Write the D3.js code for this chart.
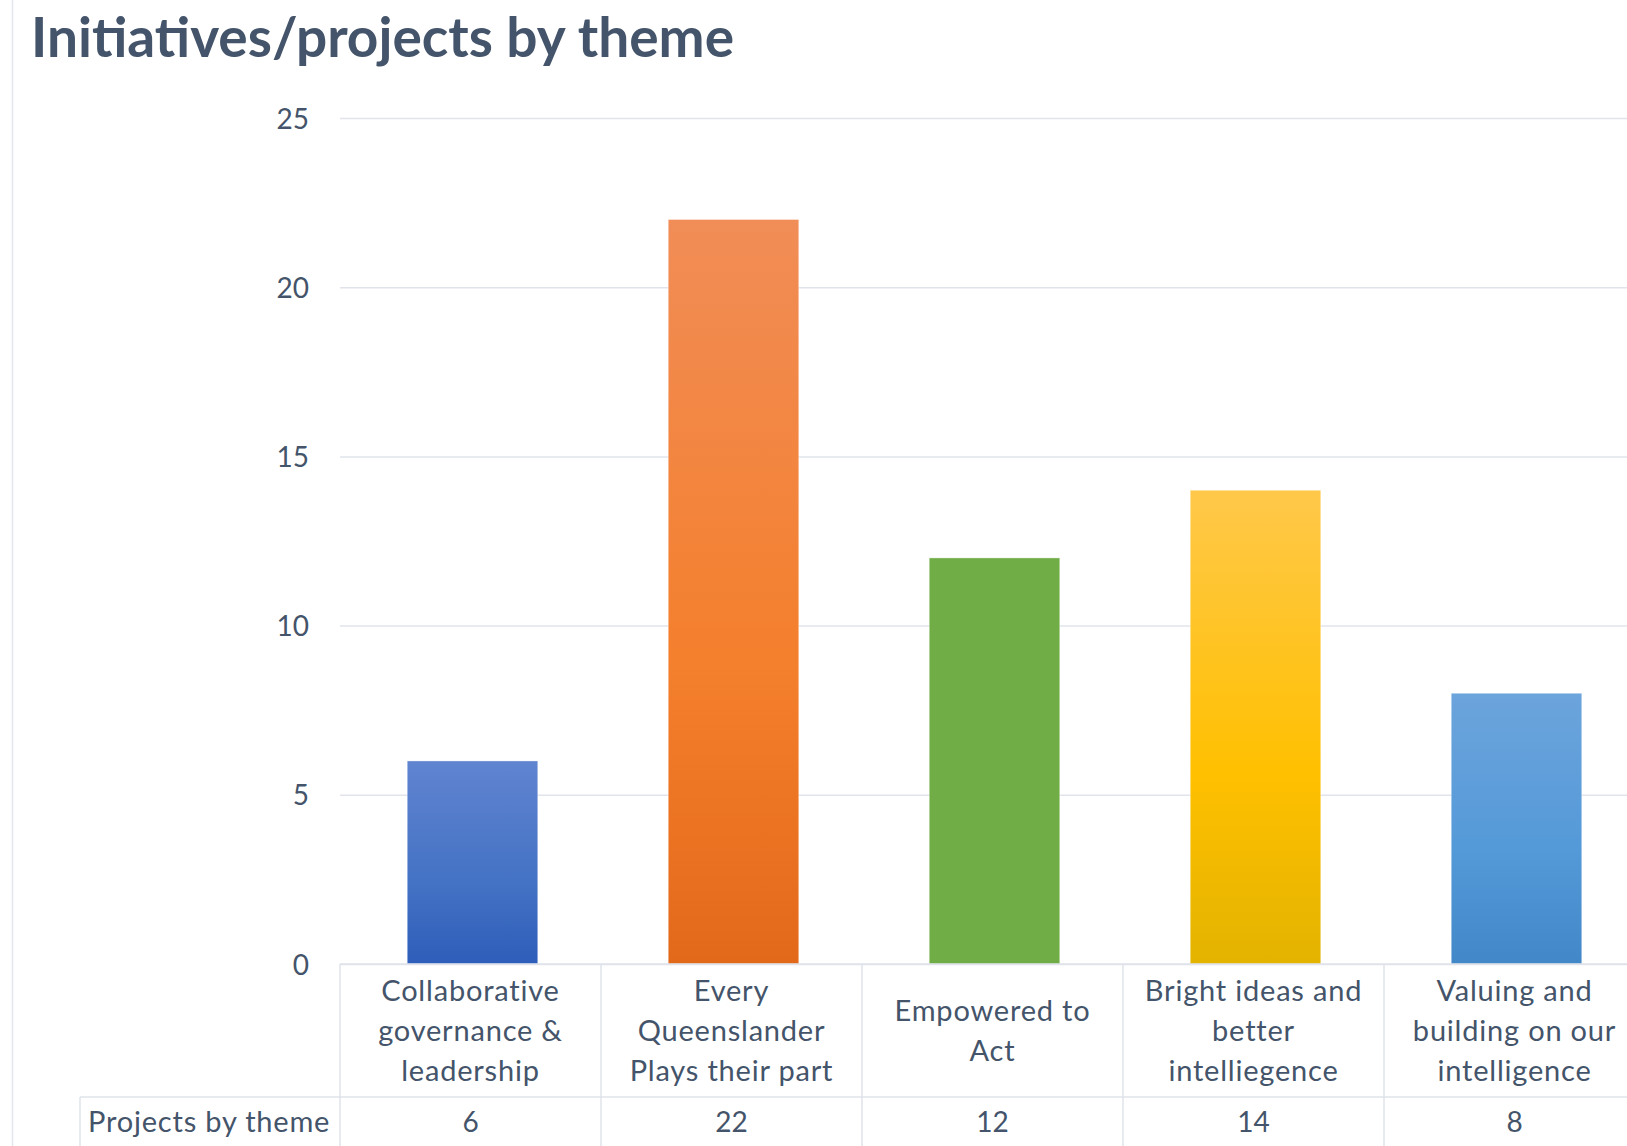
<!DOCTYPE html>
<html>
<head>
<meta charset="utf-8">
<script src="https://cdn.jsdelivr.net/npm/d3@7"></script>
<style>
  body { margin: 0; background: #fff; }
  text { font-family: Lato, "Open Sans", sans-serif; fill: #44546a; }
  .tbl { letter-spacing: 0.8px; }
</style>
</head>
<body>
<script>
var width = 1627;
var height = 1146;

// data
var categories = ["Collaborative governance & leadership", "Every Queenslander Plays their part", "Empowered to Act", "Bright ideas and better intelligence", "Valuing and building on our intelligence"];
var labelLines = [
    ["Collaborative", "governance &", "leadership"],
    ["Every", "Queenslander", "Plays their part"],
    ["Empowered to", "Act"],
    ["Bright ideas and", "better", "intelliegence"],
    ["Valuing and", "building on our", "intelligence"]
];
var projects = [6, 22, 12, 14, 8];
var yTicks = [0, 5, 10, 15, 20, 25];
var seriesName = "Projects by theme";
// top / middle / bottom of each bar's gradient
var barColors = [
    ["#6084d0", "#4472c4", "#2e5dba"],
    ["#f18d57", "#f47f2c", "#e3691a"],
    ["#70ad47", "#70ad47", "#70ad47"],
    ["#ffc84a", "#ffc000", "#e3b300"],
    ["#6ca4dc", "#5399d8", "#4287c7"]
];

var svg = d3.select("body").append("svg")
    .attr("width", width)
    .attr("height", height);

// 왼쪽 테두리
svg.append("line")
    .attr("x1", 12.5).attr("x2", 12.5)
    .attr("y1", 0).attr("y2", height)
    .attr("stroke", "#e3e6ec").attr("stroke-width", 1.5);

svg.append("text")
    .attr("x", 31).attr("y", 57)
    .attr("font-size", 55)
    .attr("font-weight", "bold")
    .text("Initiatives/projects by theme");

var plotLeft = 340, plotRight = 1645, plotTop = 118, plotBottom = 964;
var row1 = 1097;

var cell = d3.scaleBand().domain(categories).range([plotLeft, plotRight]);
var x = d3.scaleBand().domain(categories).range([plotLeft + 2, plotRight + 2])
    .paddingInner(0.5).paddingOuter(0.25);
var y = d3.scaleLinear().domain([0, 25]).range([plotBottom, plotTop]);

// gridlines
var grid = svg.append("g")
    .attr("transform", "translate(" + plotLeft + ",0)")
    .call(d3.axisLeft(y).tickValues(yTicks).tickSize(-(width - plotLeft)).tickFormat(""));
grid.select(".domain").remove();
grid.selectAll(".tick line").attr("stroke", "#e1e4eb").attr("stroke-width", 1.5);

// y tick labels
var yAxisG = svg.append("g")
    .attr("transform", "translate(309,0)")
    .call(d3.axisLeft(y).tickValues(yTicks).tickSize(0).tickPadding(0));
yAxisG.select(".domain").remove();
yAxisG.selectAll("text")
    .attr("font-size", 28)
    .attr("font-family", "Lato, sans-serif")
    .attr("fill", "#44546a")
    .attr("dy", "0.36em");

// gradients
var defs = svg.append("defs");
barColors.forEach(function (c, i) {
    var g = defs.append("linearGradient")
        .attr("id", "grad" + i)
        .attr("x1", 0).attr("y1", 0).attr("x2", 0).attr("y2", 1);
    g.append("stop").attr("offset", "0%").attr("stop-color", c[0]);
    g.append("stop").attr("offset", "60%").attr("stop-color", c[1]);
    g.append("stop").attr("offset", "100%").attr("stop-color", c[2]);
});

// bars
svg.append("g").selectAll("rect")
    .data(projects)
    .join("rect")
    .attr("x", function (d, i) { return x(categories[i]); })
    .attr("width", x.bandwidth())
    .attr("y", function (d) { return y(d); })
    .attr("height", function (d) { return y(0) - y(d); })
    .attr("fill", function (d, i) { return "url(#grad" + i + ")"; })
    .attr("stroke", "rgba(255,255,255,0.35)")
    .attr("stroke-width", 1);

// data table
var tableColor = "#dfe3ea";
var table = svg.append("g").attr("stroke", tableColor).attr("stroke-width", 1.5);
table.append("line").attr("x1", plotLeft).attr("x2", width).attr("y1", plotBottom).attr("y2", plotBottom);
table.append("line").attr("x1", 80).attr("x2", width).attr("y1", row1).attr("y2", row1);
table.append("line").attr("x1", 80).attr("x2", 80).attr("y1", row1).attr("y2", height);
table.selectAll("line.v")
    .data(categories)
    .join("line")
    .attr("class", "v")
    .attr("x1", function (d) { return cell(d); })
    .attr("x2", function (d) { return cell(d); })
    .attr("y1", plotBottom).attr("y2", height);

// category labels
var lineH = 40;
var mid = (plotBottom + row1) / 2;
svg.append("g").selectAll("text")
    .data(labelLines)
    .join("text")
    .attr("class", "tbl")
    .attr("font-size", 29)
    .attr("text-anchor", "middle")
    .each(function (lines, i) {
        var t = d3.select(this);
        var cx = cell(categories[i]) + cell.bandwidth() / 2;
        var start = mid - (lines.length - 1) * lineH / 2;
        lines.forEach(function (l, j) {
            t.append("tspan")
                .attr("x", cx)
                .attr("y", start + j * lineH)
                .attr("dy", "0.36em")
                .text(l);
        });
    });

// values row
var rowMid = 1122;
svg.append("text")
    .attr("class", "tbl")
    .attr("x", 88).attr("y", rowMid).attr("dy", "0.36em")
    .attr("font-size", 29)
    .text(seriesName);
svg.append("g").selectAll("text")
    .data(projects)
    .join("text")
    .attr("x", function (d, i) { return cell(categories[i]) + cell.bandwidth() / 2; })
    .attr("y", rowMid).attr("dy", "0.36em")
    .attr("font-size", 28)
    .attr("text-anchor", "middle")
    .text(function (d) { return d; });
</script>
</body>
</html>
